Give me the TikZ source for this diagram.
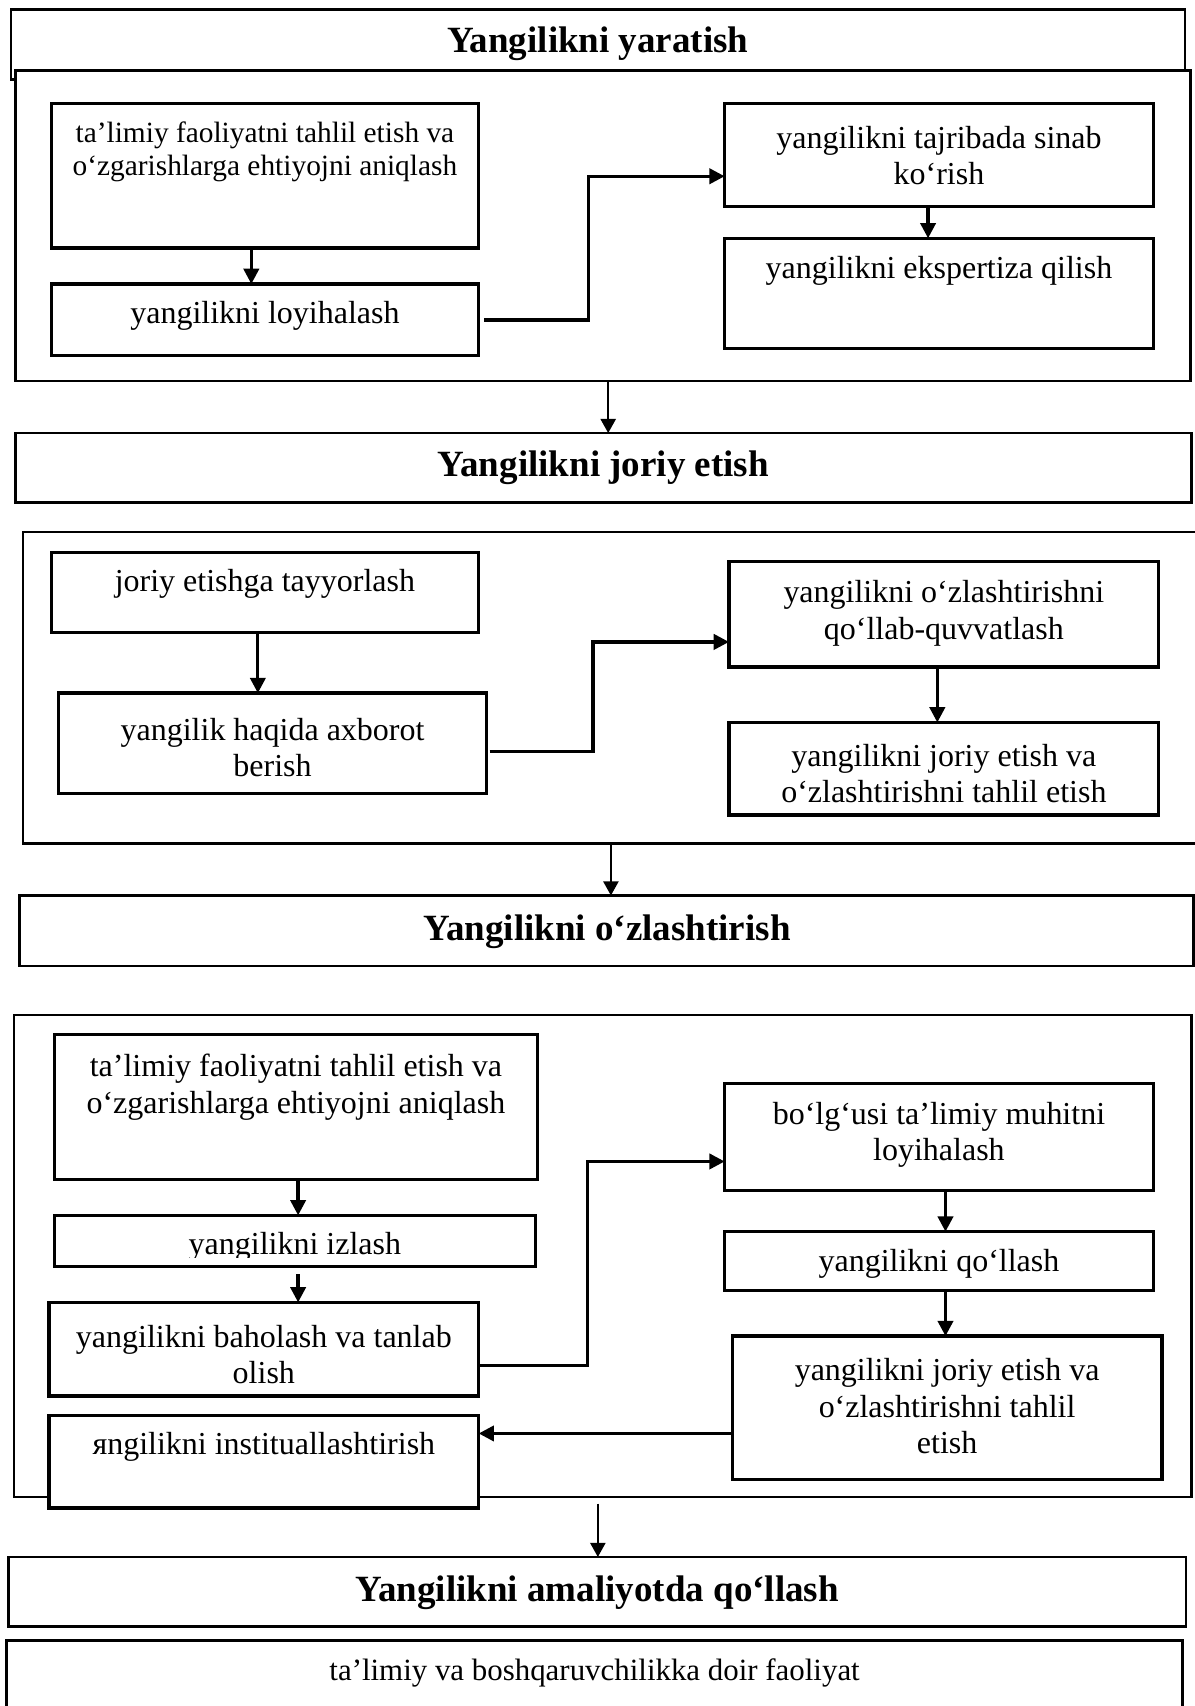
\documentclass[tikz,border=0pt]{standalone}
\usepackage{fontspec}
\setmainfont{Liberation Serif}
\usetikzlibrary{arrows.meta,calc}
\tikzset{
  bx/.style={draw, line width=1.5pt, fill=white, inner sep=0pt, outer sep=0pt},
  ob/.style={draw, line width=1.2pt, fill=white, inner sep=0pt, outer sep=0pt},
  tb/.style={draw, line width=1.2pt, fill=white, inner sep=0pt, outer sep=0pt},
  arr/.style={line width=1.5pt, -{Triangle[length=7pt,width=7pt]}},
  arrthin/.style={line width=0.9pt, -{Triangle[length=6.5pt,width=7pt]}},
  con/.style={line width=1.5pt},
  txt/.style={font=\fontsize{14.7}{16.8}\selectfont, align=center, inner sep=0pt},
  txtsmall/.style={font=\fontsize{13.5}{15.5}\selectfont, align=center, inner sep=0pt},
  txtg/.style={font=\fontsize{14.2}{16.5}\selectfont, align=center, inner sep=0pt},
  ttl/.style={font=\fontsize{17}{20}\selectfont\bfseries, inner sep=0pt},
}
% style, name, x1, y1, x2, y2
\newcommand{\rbox}[6]{%
  \node[#1, minimum width={(#5-#3)*0.5pt}, minimum height={(#6-#4)*0.5pt}] (#2) at ({(#3+#5)/2},{(#4+#6)/2}) {};}
\begin{document}
\begin{tikzpicture}[x=0.5pt,y=-0.5pt]
\useasboundingbox (0,0) rectangle (1098,1568);
\fill[white] (0,0) rectangle (1098,1568);

% ---------- Section 1 ----------
\rbox{tb}{t1}{10}{9}{1089}{73}
\rbox{ob}{o1}{14}{65}{1094}{350}
\node[ttl, anchor=base] (t1t) at (549.5,48) {Yangilikni yaratish};
\rbox{bx}{a1}{47}{95}{440}{228}
\rbox{bx}{a2}{47}{261}{440}{327}
\rbox{bx}{b1}{666}{95}{1060}{190}
\rbox{bx}{b2}{666}{219}{1060}{320}
\node[txtsmall] (a1t) at (243.5,139.5) {ta’limiy faoliyatni tahlil etish va\\o‘zgarishlarga ehtiyojni aniqlash};
\node[txt, anchor=base] (a2t) at (243.5,297) {yangilikni loyihalash};
\node[txt] (b1t) at (863,143) {yangilikni tajribada sinab\\ko‘rish};
\node[txt, anchor=base] (b2t) at (863,256) {yangilikni ekspertiza qilish};
\draw[arr] ([xshift=-6.25pt]a1.south) -- ([xshift=-6.25pt]a1.south |- a2.north);
\draw[arr] ([xshift=2.5pt]a2.east) -- ++(48pt,0) |- ([yshift=-9.75pt]b1.west);
\draw[arr] ([xshift=-5pt]b1.south) -- ([xshift=-5pt]b1.south |- b2.north);

% ---------- Section 2 ----------
\rbox{tb}{t2}{14}{398}{1095}{462}
\node[ttl, anchor=base] (t2t) at (554.5,438) {Yangilikni joriy etish};
\draw[arrthin] ([xshift=2.5pt]o1.south) -- ([xshift=2.5pt]o1.south |- t2.north);
\rbox{ob}{o2}{21}{489}{1102}{775}
\rbox{bx}{c1}{47}{508}{440}{581}
\rbox{bx}{c2}{54}{637}{447}{729}
\rbox{bx}{d1}{670}{516}{1065}{613}
\rbox{bx}{d2}{670}{664}{1065}{749}
\node[txt, anchor=base] (c1t) at (243.5,544) {joriy etishga tayyorlash};
\node[txt] (c2t) at (250.5,687) {yangilik haqida axborot\\berish};
\node[txt] (d1t) at (867.5,563.5) {yangilikni o‘zlashtirishni\\qo‘llab-quvvatlash};
\node[txt] (d2t) at (867.5,711) {yangilikni joriy etish va\\o‘zlashtirishni tahlil etish};
\draw[arr] ([xshift=-3.25pt]c1.south) -- ([xshift=-3.25pt]c1.south |- c2.north);
\draw[arr] ([xshift=1.5pt,yshift=-3.75pt]c2.east) -- ++(47.5pt,0) |- ([yshift=-12.75pt]d1.west);
\draw[arr] ([xshift=-3pt]d1.south) -- ([xshift=-3pt]d1.south |- d2.north);

% ---------- Section 3 ----------
\rbox{tb}{t3}{18}{823}{1097}{888}
\node[ttl, anchor=base] (t3t) at (558,864) {Yangilikni o‘zlashtirish};
\draw[arrthin] (o2.south) -- (o2.south |- t3.north);
\rbox{ob}{o3}{13}{933}{1095}{1376}
\rbox{bx}{e1}{50}{951}{494}{1084}
\rbox{bx}{e2}{50}{1117}{492}{1164}
\rbox{bx}{e3}{45}{1197}{440}{1283}
\rbox{bx}{e4}{45}{1301}{440}{1386}
\rbox{bx}{f1}{666}{996}{1060}{1094}
\rbox{bx}{f2}{666}{1132}{1060}{1186}
\rbox{bx}{f3}{673}{1228}{1068}{1360}
\node[txt] (e1t) at (272,999) {ta’limiy faoliyatni tahlil etish va\\o‘zgarishlarga ehtiyojni aniqlash};
\begin{scope}
  \clip (e2.north west) rectangle ([yshift=4pt]e2.south east);
  \node[txt, anchor=base] (e2t) at (271,1153) {yangilikni izlash};
\end{scope}
\node[txt] (e3t) at (242.5,1245) {yangilikni baholash va tanlab\\olish};
\node[txt, anchor=base] (e4t) at (242.5,1337) {яngilikni instituallashtirish};
\node[txt] (f1t) at (863,1043) {bo‘lg‘usi ta’limiy muhitni\\loyihalash};
\node[txt, anchor=base] (f2t) at (863,1168.5) {yangilikni qo‘llash};
\node[txt] (f3t) at (870.5,1292.5) {yangilikni joriy etish va\\o‘zlashtirishni tahlil\\etish};
\draw[arr] ([xshift=1pt]e1.south) -- ([xshift=1pt]e1.south |- e2.north);
\draw[arr] ([xshift=1.5pt,yshift=-3.5pt]e2.south) -- ([xshift=1.5pt]e2.south |- e3.north);
\draw[arr] ([yshift=-7.5pt]e3.east) -- ++(50pt,0) |- ([yshift=-11.25pt]f1.west);
\draw[arr] ([xshift=3pt]f1.south) -- ([xshift=3pt]f1.south |- f2.north);
\draw[arr] ([xshift=3pt]f2.south) -- ([xshift=3pt]f2.south |- f3.north);
\draw[arr] ([yshift=-11.75pt]f3.west) -- ([yshift=-11.75pt]f3.west -| e4.east);

% ---------- Section 4 ----------
\rbox{tb}{t4}{8}{1431}{1090}{1495}
\node[ttl, anchor=base] (t4t) at (549,1472) {Yangilikni amaliyotda qo‘llash};
\draw[arrthin] ([xshift=-2.25pt,yshift=-3pt]o3.south) -- ([xshift=-2.25pt]o3.south |- t4.north);
\rbox{bx}{g}{6}{1508}{1087}{1620}
\node[txtg, anchor=base] (gt) at (546.5,1545) {ta’limiy va boshqaruvchilikka doir faoliyat};
\end{tikzpicture}
\end{document}
